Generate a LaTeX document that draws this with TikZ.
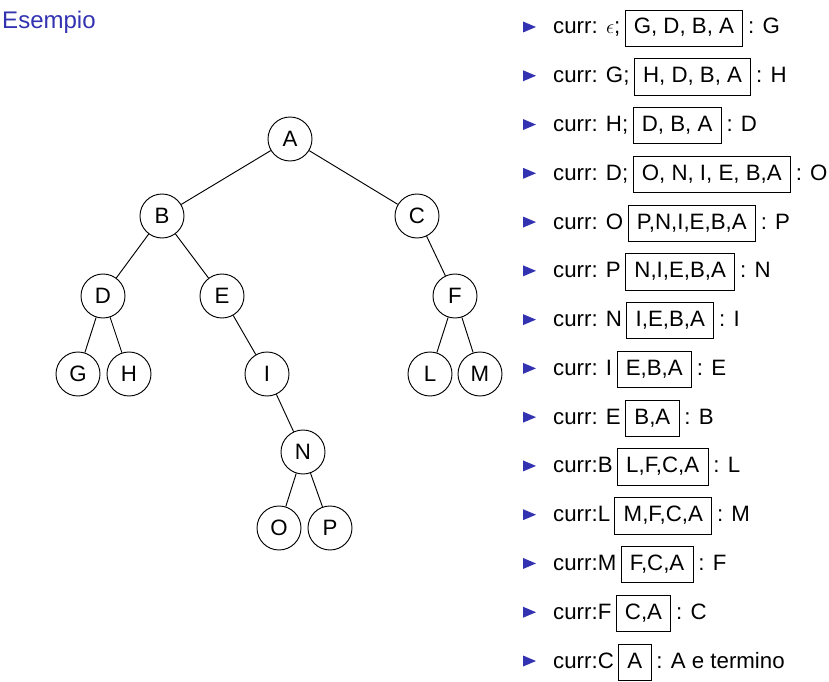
\documentclass[tikz,border=0pt]{standalone}
\usepackage{fontspec}
\setmainfont{Liberation Sans}
\usetikzlibrary{positioning}

\definecolor{structblue}{rgb}{0.2,0.2,0.7}

\tikzset{
  vertex/.style={draw, circle, minimum size=1.32cm, inner sep=0pt, line width=0.8pt},
  stackbox/.style={draw, line width=0.8pt, inner xsep=7.5pt, inner ysep=7pt,
    text height=13.5pt, text depth=3.5pt},
  itemtext/.style={inner sep=0pt},
}

\begin{document}
\begin{tikzpicture}[x=0.03cm, y=-0.03cm, font=\fontsize{19}{23}\selectfont]
        \useasboundingbox (0,0) rectangle (829,682);
        \node[itemtext, anchor=base west, text=structblue,
              font=\fontsize{20.5}{24}\selectfont] (title) at (2,29) {Esempio};
        % tree
        \node[vertex] (A) at (290,139) {A};
        \node[vertex] (B) at (162,216) {B};
        \node[vertex] (C) at (417,216) {C};
        \node[vertex] (D) at (103,296) {D};
        \node[vertex] (E) at (222,296) {E};
        \node[vertex] (F) at (455,296) {F};
        \node[vertex] (G) at (78,374) {G};
        \node[vertex] (H) at (129,374) {H};
        \node[vertex] (I) at (267,374) {I};
        \node[vertex] (L) at (430,374) {L};
        \node[vertex] (M) at (480,374) {M};
        \node[vertex] (N) at (303,452) {N};
        \node[vertex] (O) at (279,528) {O};
        \node[vertex] (P) at (330,528) {P};
        \draw[line width=0.8pt] (A) -- (B) (A) -- (C) (B) -- (D) (B) -- (E)
            (D) -- (G) (D) -- (H) (E) -- (I) (I) -- (N) (N) -- (O) (N) -- (P)
            (C) -- (F) (F) -- (L) (F) -- (M);
        % visit steps
        \foreach \i/\cur/\stk/\out [evaluate=\i as \y using 27+48.77*(\i-1)] in {
            1/{curr: $\epsilon$;}/{G, D, B, A}/G,
            2/{curr: G;}/{H, D, B, A}/H,
            3/{curr: H;}/{D, B, A}/D,
            4/{curr: D;}/{O, N, I, E, B,A}/O,
            5/{curr: O~}/{P,N,I,E,B,A}/P,
            6/{curr: P~}/{N,I,E,B,A}/N,
            7/{curr: N~}/{I,E,B,A}/I,
            8/{curr: I~}/{E,B,A}/E,
            9/{curr: E~}/{B,A}/B,
            10/{curr:B~}/{L,F,C,A}/L,
            11/{curr:L~}/{M,F,C,A}/M,
            12/{curr:M~}/{F,C,A}/F,
            13/{curr:F~}/{C,A}/C,
            14/{curr:C~}/{A}/{A e termino}}{
          \fill[structblue] (523,\y-5.5) -- (536,\y) -- (523,\y+5.5) -- cycle;
          \node[itemtext, anchor=base west] (cur\i) at (553,\y+7) {\cur};
          \node[stackbox, anchor=base west, xshift=3.5pt] (stk\i) at (cur\i.base east) {\stk};
          \node[itemtext, anchor=base west, xshift=4pt] (out\i) at (stk\i.base east) {: \out};
        }
    \end{tikzpicture}
\end{document}
